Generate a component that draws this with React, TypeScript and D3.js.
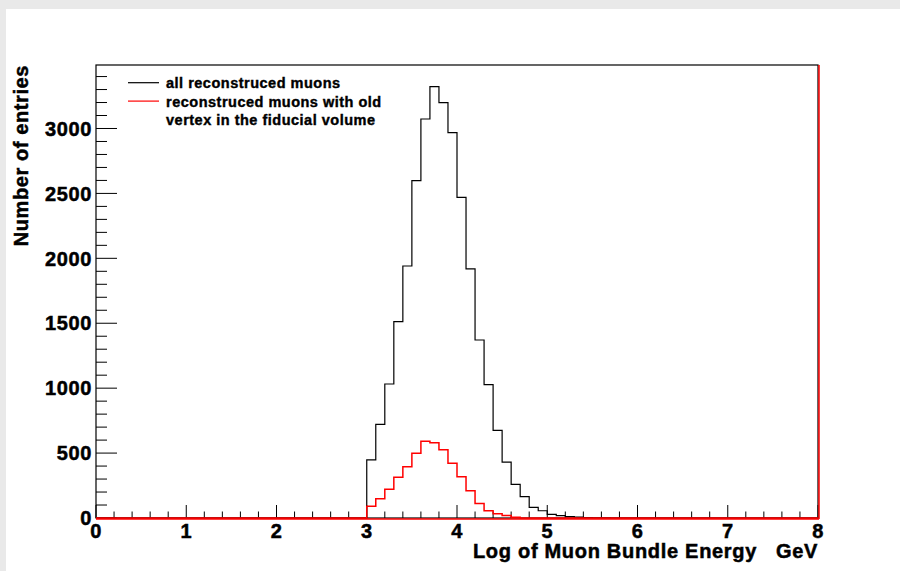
import React from "react";
import * as d3 from "d3";

// histogram: 80 bins of 0.1 from 0 to 8, only non-empty bins listed
const binWidth = 0.1;
const nBins = 80;
const allStart = 3.0;
const allCounts = [
  447, 721, 1032, 1512, 1941, 2598, 3073, 3322, 3199, 2968, 2470, 1918,
  1371, 1027, 675, 431, 259, 164, 82, 56, 28, 18, 10, 7, 4, 2, 1,
];
const fidStart = 3.0;
const fidCounts = [
  90, 148, 221, 314, 394, 498, 591, 580, 525, 421, 318, 209, 111, 55, 33,
  19, 5,
];

const xTicks = [0, 1, 2, 3, 4, 5, 6, 7, 8];
const yTicks = [0, 500, 1000, 1500, 2000, 2500, 3000];
const yMax = 3489;

const legendItems = [
  { color: "#000000", lines: ["all reconstruced muons"] },
  { color: "#ff0000", lines: ["reconstruced muons with old", "vertex in the fiducial volume"] },
];

const W = 900;
const H = 571;
const left = 96;
const right = 818;
const top = 65;
const bottom = 518;

function fullBins(start: number, counts: number[]) {
  const first = Math.round(start / binWidth);
  const out: [number, number][] = [];
  for (let i = 0; i < nBins; i++) {
    const k = i - first;
    out.push([i * binWidth, k >= 0 && k < counts.length ? counts[k] : 0]);
  }
  out.push([nBins * binWidth, out[out.length - 1][1]]);
  return out;
}

const font = "'Liberation Sans', Arial, Helvetica, sans-serif";
// ROOT's bold helvetica renders heavier, thicken a bit
const heavy = { stroke: "#000", strokeWidth: 0.5, paintOrder: "stroke" } as const;

export default function App() {
  const x = d3.scaleLinear().domain([0, 8]).range([left, right]);
  const y = d3.scaleLinear().domain([0, yMax]).range([bottom, top]);

  const line = d3
    .line<[number, number]>()
    .x((d) => x(d[0]))
    .y((d) => y(d[1]))
    .curve(d3.curveStepAfter);

  const xMinor = d3.range(0, 8.0001, 0.2);
  const yMinor = d3.range(0, yMax, 100);

  return (
    <svg
      width={W}
      height={H}
      style={{ position: "absolute", left: 0, top: 0 }}
      fontFamily={font}
      fontWeight="bold"
    >
      <rect x={0} y={0} width={W} height={H} fill="#e9e9e9" />
      <rect x={6} y={9} width={W - 6} height={H - 9} fill="#ffffff" />

      {/* frame */}
      <rect
        x={left}
        y={top}
        width={right - left}
        height={bottom - top}
        fill="none"
        stroke="#000"
        strokeWidth={1.2}
      />

      {/* y ticks */}
      {yMinor.map((v) => (
        <line key={"ym" + v} x1={left} x2={left + (v % 500 === 0 ? 21 : 11)} y1={y(v)} y2={y(v)} stroke="#000" strokeWidth={1} />
      ))}
      {yTicks.map((v) => (
        <text
          key={"yl" + v}
          x={92}
          y={y(v)}
          dy="0.36em"
          textAnchor="end"
          fontSize={20}
          letterSpacing={0.6}
          {...heavy}
        >
          {v}
        </text>
      ))}

      {/* x ticks */}
      {xMinor.map((v) => {
        const major = Math.abs(v - Math.round(v)) < 1e-6;
        return (
          <line key={"xm" + v} x1={x(v)} x2={x(v)} y1={bottom} y2={bottom - (major ? 13 : 6.5)} stroke="#000" strokeWidth={1} />
        );
      })}
      {xTicks.map((v) => (
        <text key={"xl" + v} x={x(v)} y={538} textAnchor="middle" fontSize={20} letterSpacing={0.6} {...heavy}>
          {v}
        </text>
      ))}

      {/* histograms */}
      <path d={line(fullBins(allStart, allCounts)) || ""} fill="none" stroke="#000" strokeWidth={1.2} />
      <path d={line(fullBins(fidStart, fidCounts)) || ""} fill="none" stroke="#ff0000" strokeWidth={1.5} />
      <line x1={left} x2={right + 1} y1={bottom + 1} y2={bottom + 1} stroke="#ff0000" strokeWidth={1.5} />
      <line x1={right + 1} x2={right + 1} y1={top} y2={bottom + 1} stroke="#ff0000" strokeWidth={1.5} />

      {/* axis titles */}
      <text x={right} y={558} textAnchor="end" fontSize={20} letterSpacing={0.7} {...heavy}>
        Log of Muon Bundle Energy{"\u00a0\u00a0\u00a0"}GeV
      </text>
      <text
        transform={`translate(28,${top}) rotate(-90)`}
        textAnchor="end"
        fontSize={20}
        letterSpacing={0.6}
        {...heavy}
      >
        Number of entries
      </text>

      {/* legend */}
      {legendItems.map((item, i) => {
        const base = 88.3 + i * 18.4;
        return (
          <g key={"lg" + i}>
            <line x1={128} x2={159} y1={base - 5.6} y2={base - 5.6} stroke={item.color} strokeWidth={1.2} />
            {item.lines.map((t, j) => (
              <text key={j} x={166} y={base + j * 18.4} fontSize={14.5} letterSpacing={0.5} {...heavy} strokeWidth={0.4}>
                {t}
              </text>
            ))}
          </g>
        );
      })}
    </svg>
  );
}
